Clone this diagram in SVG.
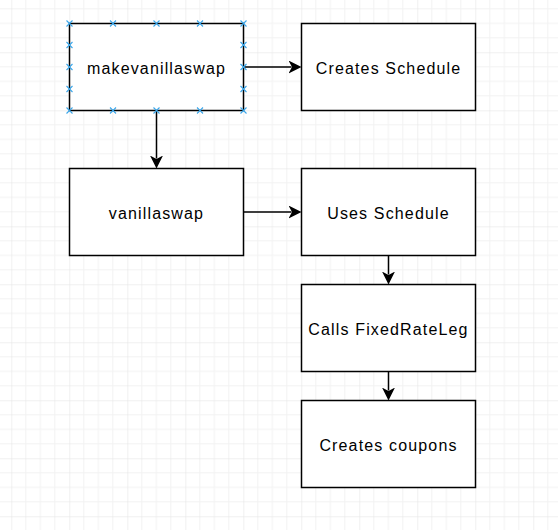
<svg xmlns="http://www.w3.org/2000/svg" width="558" height="530" viewBox="0 0 558 530">
<style>
.box{fill:#fff;stroke:#000;stroke-width:1.5}
.lbl{font-family:"Liberation Sans",Arial,sans-serif;font-size:16px;letter-spacing:1.15px;fill:#000;text-anchor:middle}
.edge{fill:none;stroke:#000;stroke-width:1.5}
.h{stroke:#3aa6ea;stroke-width:1.1;fill:none}
</style>
<defs>
<pattern id="grid" patternUnits="userSpaceOnUse" x="11.3" y="-5.7" width="58" height="58">
<path d="M14.5,0V58M29,0V58M43.5,0V58M0,14.5H58M0,29H58M0,43.5H58" stroke="#f2f2f2" stroke-width="1" fill="none"/>
<path d="M0,0V58M0,0H58" stroke="#e2e2e2" stroke-width="1" fill="none"/>
</pattern>
<marker id="arr" markerUnits="userSpaceOnUse" markerWidth="14" markerHeight="14" refX="3" refY="6.5" orient="auto">
<path d="M0,0L13,6.5L0,13L3.5,6.5Z" fill="#000"/>
</marker>
<path id="hx" d="M-3,-3L3,3M-3,3L3,-3"/>
</defs>
<rect width="558" height="530" fill="#fff"/>
<rect width="558" height="530" fill="url(#grid)"/>
<g id="connectors">
<path class="edge" d="M243.5,67H291.5" marker-end="url(#arr)"/>
<path class="edge" d="M156.5,110.5V158.5" marker-end="url(#arr)"/>
<path class="edge" d="M243.5,212H291.5" marker-end="url(#arr)"/>
<path class="edge" d="M388.5,255.5V274.5" marker-end="url(#arr)"/>
<path class="edge" d="M388.5,371.5V390.5" marker-end="url(#arr)"/>
</g>
<g id="makevanillaswap">
<rect class="box" x="69.5" y="23.5" width="174" height="87"/>
<text class="lbl" x="156.5" y="73.5">makevanillaswap</text>
</g>
<g id="createsSchedule">
<rect class="box" x="301.5" y="23.5" width="174" height="87"/>
<text class="lbl" x="388.5" y="73.5">Creates Schedule</text>
</g>
<g id="vanillaswap">
<rect class="box" x="69.5" y="168.5" width="174" height="87"/>
<text class="lbl" x="156.5" y="218.5">vanillaswap</text>
</g>
<g id="usesSchedule">
<rect class="box" x="301.5" y="168.5" width="174" height="87"/>
<text class="lbl" x="388.5" y="218.5">Uses Schedule</text>
</g>
<g id="callsFixedRateLeg">
<rect class="box" x="301.5" y="284.5" width="174" height="87"/>
<text class="lbl" x="388.5" y="334.5">Calls FixedRateLeg</text>
</g>
<g id="createsCoupons">
<rect class="box" x="301.5" y="400.5" width="174" height="87"/>
<text class="lbl" x="388.5" y="450.5">Creates coupons</text>
</g>
<g id="selection" class="h">
<use href="#hx" x="69.5" y="23.5"/><use href="#hx" x="113" y="23.5"/><use href="#hx" x="156.5" y="23.5"/><use href="#hx" x="200" y="23.5"/><use href="#hx" x="243.5" y="23.5"/>
<use href="#hx" x="69.5" y="110.5"/><use href="#hx" x="113" y="110.5"/><use href="#hx" x="156.5" y="110.5"/><use href="#hx" x="200" y="110.5"/><use href="#hx" x="243.5" y="110.5"/>
<use href="#hx" x="69.5" y="45"/><use href="#hx" x="69.5" y="67"/><use href="#hx" x="69.5" y="89"/>
<use href="#hx" x="243.5" y="45"/><use href="#hx" x="243.5" y="67"/><use href="#hx" x="243.5" y="89"/>
</g>
</svg>
